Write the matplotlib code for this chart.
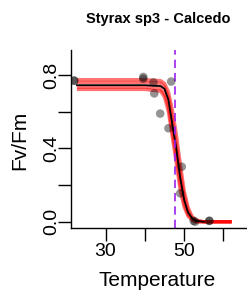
import matplotlib
matplotlib.use("Agg")
import matplotlib.pyplot as plt

plt.rcParams['font.family'] = ['Liberation Sans', 'DejaVu Sans']

# measured points (Fv/Fm vs temperature)
temp = [22.0, 22.0, 39.6, 39.6, 42.2, 42.4, 43.9, 46.0, 46.7, 49.4, 49.0, 52.4, 52.8, 56.4, 56.4]
fvfm = [0.77, 0.77, 0.79, 0.78, 0.76, 0.70, 0.59, 0.51, 0.765, 0.30, 0.155, 0.005, 0.0, 0.005, 0.005]

# fitted curve and bootstrap curves
curve_t = [22.7, 40, 44, 45, 46, 47, 48, 49, 50, 51, 52, 53, 55, 62.1]
fit = [0.745, 0.745, 0.74, 0.725, 0.665, 0.53, 0.40, 0.24, 0.12, 0.05, 0.02, 0.005, 0.0, 0.0]
boot = [
    [0.775, 0.775, 0.77, 0.755, 0.71, 0.61, 0.48, 0.32, 0.17, 0.08, 0.03, 0.01, 0.0, 0.0],
    [0.722, 0.722, 0.712, 0.68, 0.60, 0.46, 0.32, 0.17, 0.08, 0.03, 0.01, 0.0, 0.0, 0.0],
    [0.76, 0.76, 0.755, 0.735, 0.68, 0.56, 0.42, 0.27, 0.14, 0.06, 0.02, 0.005, 0.0, 0.0],
    [0.735, 0.735, 0.725, 0.70, 0.63, 0.49, 0.36, 0.21, 0.10, 0.04, 0.015, 0.0, 0.0, 0.0],
]
t50 = 47.7

x_ticks = [30, 40, 50, 60]
x_labels = ['30', '', '50', '']
y_ticks = [0.0, 0.2, 0.4, 0.6, 0.8]
y_labels = ['0.0', '', '0.4', '', '0.8']

W, H = 247, 294
fig = plt.figure(figsize=(W / 100, H / 100), dpi=100)
ax = fig.add_axes([71 / W, 66 / H, (W - 71) / W, (228 - 50) / H])

for b in boot:
    ax.plot(curve_t, b, color='red', lw=2.4, alpha=0.55, solid_capstyle='butt')
ax.plot(curve_t[:-1], fit[:-1], color='black', lw=1.3)
ax.axvline(t50, color='#a020f0', lw=1.2, dashes=(5, 3))
ax.scatter(temp, fvfm, s=38, color='black', alpha=0.42, edgecolors='none', zorder=3)

ax.set_xlim(21.2, 66)
ax.set_ylim(-0.034, 0.937)
ax.set_xticks(x_ticks)
ax.set_xticklabels(x_labels, fontsize=14)
ax.set_yticks(y_ticks)
ax.set_yticklabels(y_labels, fontsize=14, rotation=90, va='center')
ax.tick_params(direction='out', length=9.5, width=1, colors='black')
ax.tick_params(axis='x', pad=1.5)
ax.tick_params(axis='y', pad=-1.5)
ax.spines['top'].set_visible(False)
ax.spines['right'].set_visible(False)
for s in ('left', 'bottom'):
    ax.spines[s].set_linewidth(1)

fig.text(158 / W, 1 - 19 / H, 'Styrax sp3 - Calcedo', ha='center', va='center',
         fontsize=10.5, fontweight='bold')
fig.text(157 / W, 1 - 280 / H, 'Temperature', ha='center', va='center', fontsize=15)
fig.text(20 / W, 1 - 140 / H, 'Fv/Fm', ha='center', va='center', fontsize=15, rotation=90)

fig.savefig('out.png', dpi=100)
